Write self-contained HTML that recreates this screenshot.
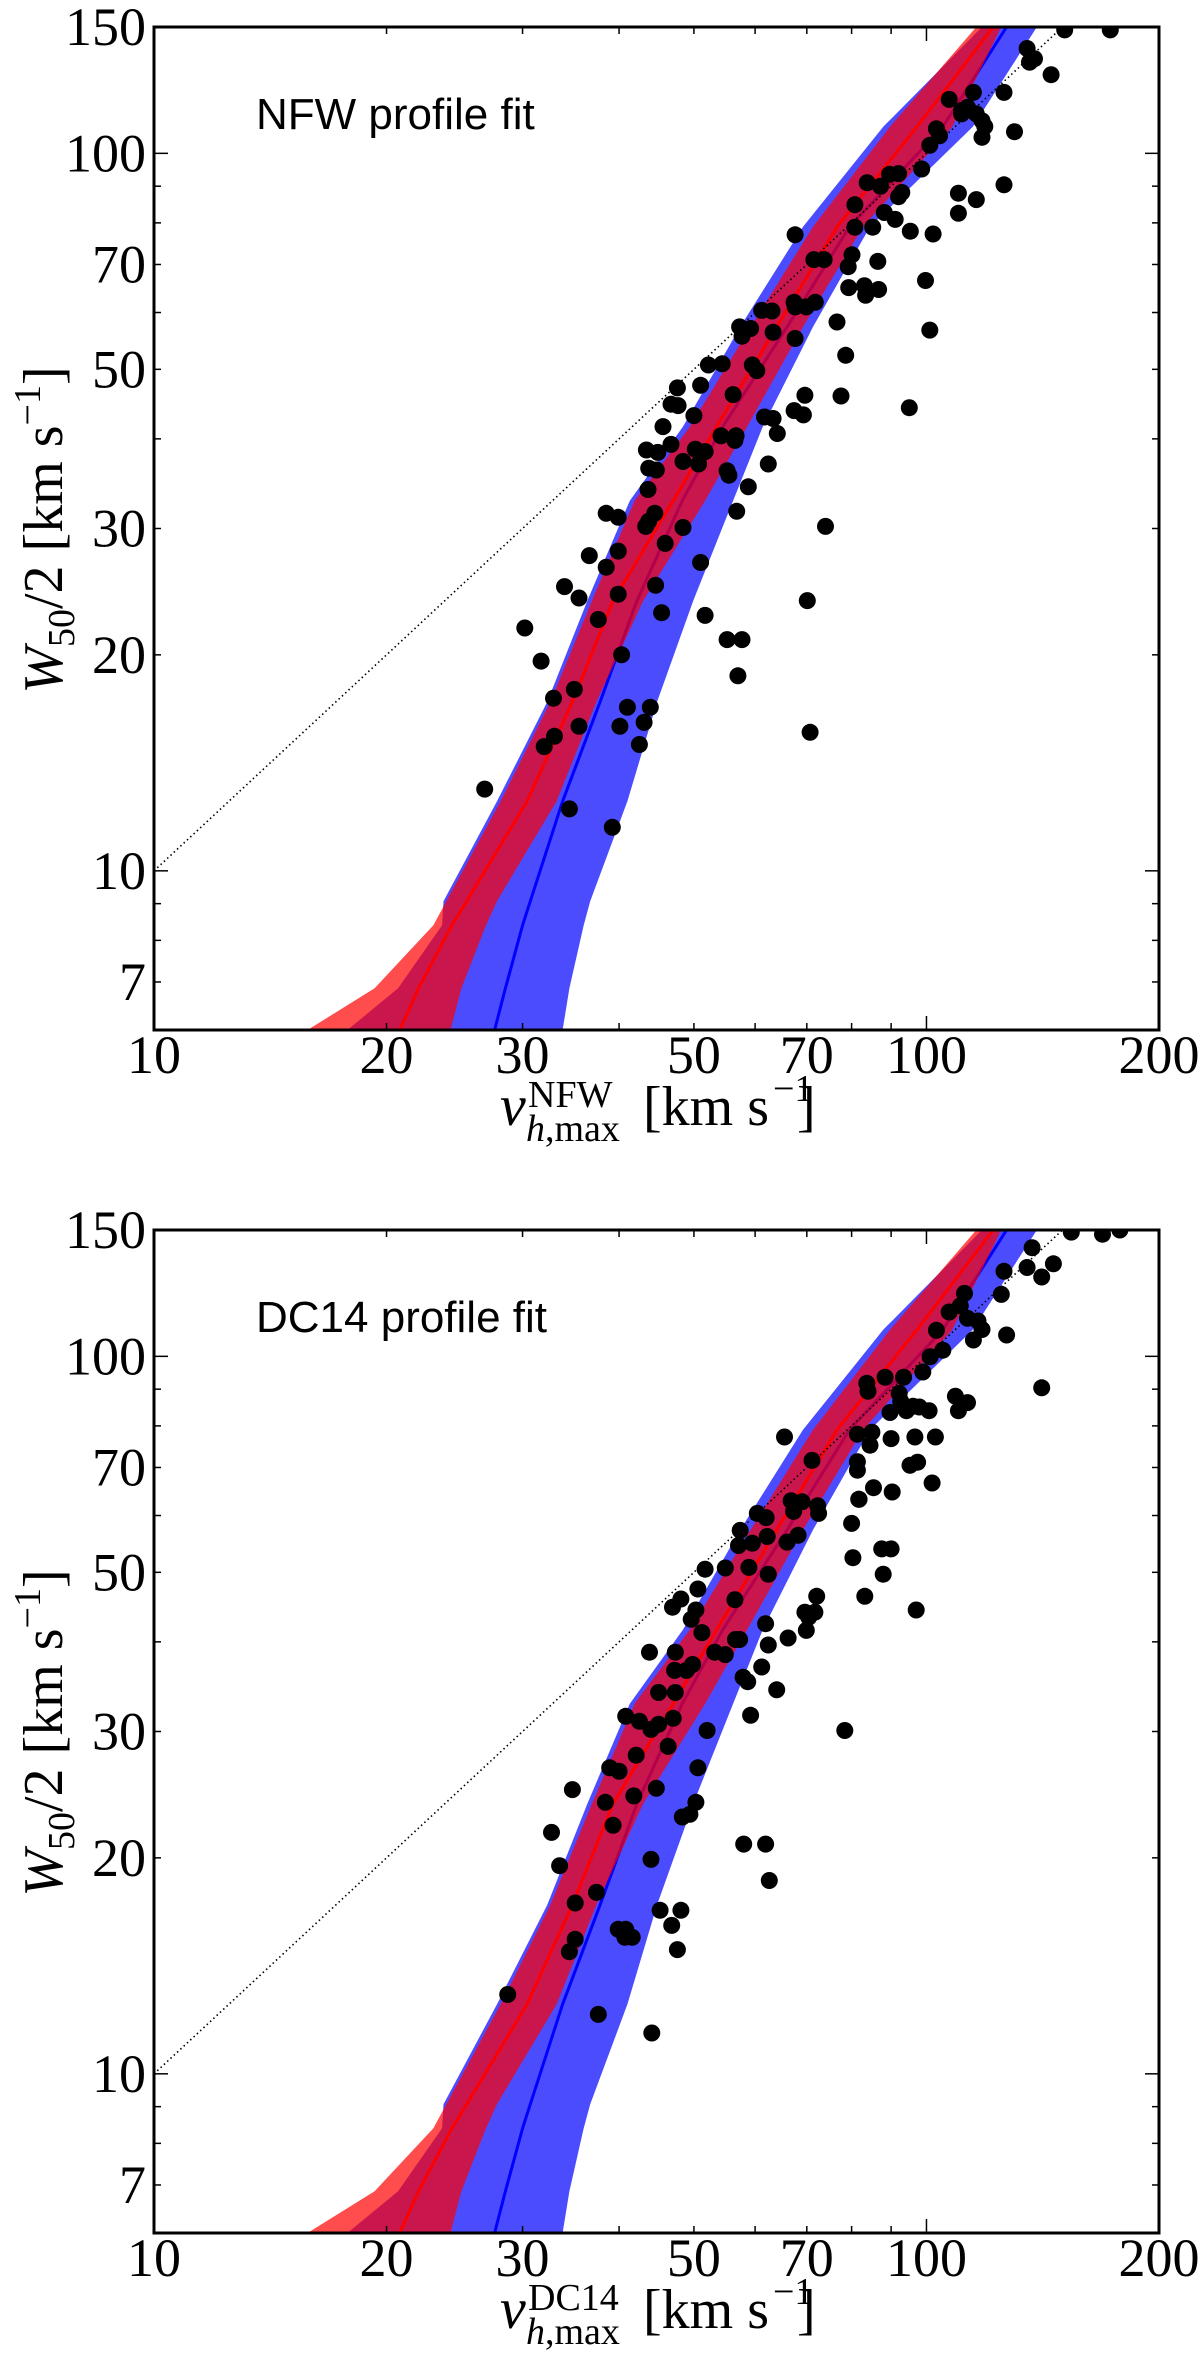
<!DOCTYPE html>
<html><head><meta charset="utf-8"><style>
html,body{margin:0;padding:0;background:#fff;}
svg{display:block;}
text{font-family:"Liberation Serif",serif;fill:#000;}
.sans{font-family:"Liberation Sans",sans-serif;}
</style></head><body>
<svg id="fig" width="1200" height="2361" viewBox="0 0 1200 2361" xmlns="http://www.w3.org/2000/svg"></svg>
<script>
// ---- shared band data (W50/2 levels and v_max edges) ----
const bandW   = [6, 6.86, 8.4, 9.07, 12.5, 17.2, 23.8, 32.8, 41.6, 57.3, 79, 108.9, 150];
const redLo   = [15.8, 19.3, 23.0, 23.9, 28.1, 32.6, 36.9, 41.9, 49.4, 59.2, 71.3, 89.7, 116];
const redHi   = [24.2, 25.0, 26.9, 27.8, 33.2, 37.4, 43, 51.7, 58.6, 69.2, 82.8, 108, 125];
const redMid  = [20.8, 22.0, 24.3, 25.4, 30.4, 34.8, 39.3, 47, 53.5, 64, 76.6, 97.2, 122];
const blueLo  = [17.8, 20.7, 23.6, 23.7, 27.8, 32.3, 36.4, 41.3, 48.4, 57.4, 69.2, 87.9, 118];
const blueHi  = [33.8, 34.5, 36.0, 36.7, 41.0, 44.8, 49.9, 56.2, 61.4, 71.3, 84.5, 114.8, 139];
const blueMid = [27.6, 28.5, 30.0, 30.7, 33.8, 37.8, 42.2, 48.3, 54.5, 66, 79.5, 105, 127];

// ---- NFW panel points ----
const nfwV = [26.8,30.2,31.7,32.9,32.0,33.0,34.0,35.5,36.6,35.0,35.5,34.5,37.6,38.5,39.9,38.5,39.9,39.9,40.3,40.1,39.2,41.0,42.5,43.1,43.9,44.6,45.4,45.9,43.3,43.7,44.5,43.6,43.7,44.7,43.4,44.9,46.7,45.6,46.7,47.7,47.6,48.4,48.4,50.0,50.2,50.7,51.0,51.7,52.2,51.0,51.7,54.2,54.4,55.2,55.5,56.5,56.7,56.8,55.2,57.7,57.0,56.2,57.3,57.7,59.2,59.5,60.3,58.8,61.2,62.4,61.7,63.3,64.1,63.1,63.3,67.6,67.4,67.6,67.4,69.3,69.6,70.1,70.7,67.6,69.9,71.8,71.5,73.7,74.0,76.6,77.5,78.6,79.2,80.1,79.3,83.1,83.4,83.8,80.8,80.8,85.2,87.2,86.7,86.5,88.2,89.6,92.0,91.1,92.0,92.9,95.0,95.3,98.6,99.7,101,101,103,104,102,107,110,110,111,113,111,115,116,118,118,116,119,126,126,130,136,136,138,145,151,173,135];
const nfwW = [13.0,21.8,19.6,17.4,14.9,15.4,24.9,24.0,27.5,17.9,15.9,12.2,22.4,31.5,31.1,26.5,27.9,24.3,20.0,15.9,11.5,16.9,15.0,16.1,16.9,25.0,22.9,28.6,30.2,30.7,31.5,34.0,36.4,36.2,38.6,38.3,39.3,41.6,44.7,44.5,47.1,30.1,37.2,43.1,38.7,36.9,47.5,38.4,50.7,26.9,22.7,40.4,50.9,36.1,35.6,39.8,40.4,31.7,21.0,21.0,18.7,46.1,57.3,55.6,57.0,50.7,49.8,34.3,60.4,36.9,42.9,42.7,40.7,60.3,56.3,77.0,62.0,55.2,43.8,43.2,46.0,23.8,15.6,61.1,61.1,62.0,71.1,71.1,30.2,58.2,45.9,52.3,69.5,72.2,65.0,65.4,63.4,91.0,78.9,84.8,78.9,90.0,64.6,70.7,82.7,93.5,93.7,80.9,87.0,88.2,44.2,77.9,95.1,66.5,102.6,56.7,108.2,105.8,77.2,118.9,88.0,82.5,114.7,115.9,113.5,121.6,113.5,105.3,111,86.2,109,90.4,121.6,107.2,134,134,135.5,128.7,148.6,148.6,140];

// ---- DC14 panel points ----
const dcV = [28.7,32.7,33.5,34.8,35.1,35.1,34.5,37.4,37.6,38.4,38.9,39.3,40.0,40.8,39.9,40.8,41.6,40.7,41.8,42.1,42.5,44.0,45.0,45.0,44.0,44.1,43.8,44.7,45.2,46.8,47.6,48.1,46.3,47.0,47.3,47.2,47.3,48.1,46.9,48.3,49.4,50.3,50.6,52.0,48.9,49.8,49.6,50.3,50.6,51.2,51.7,53.2,54.9,54.9,56.5,56.6,57.3,57.1,57.4,57.9,58.7,59.2,58.0,58.9,59.5,60.4,61.2,62.0,62.2,62.4,61.9,62.4,61.9,62.6,64.0,66.0,66.2,66.8,67.3,68.2,69.0,69.6,69.9,70.4,71.7,72.1,72.3,72.5,71.1,65.5,78.4,80.0,80.3,81.4,81.4,81.8,81.4,83.2,83.7,84.0,84.5,85.0,81.7,85.4,87.5,87.9,90.0,89.7,90.0,88.4,90.3,92.2,93.4,92.6,94.2,96.1,96.6,97.0,95.2,97.4,97.9,98.9,100.8,101.7,102.7,101.1,105,103,107,109,110,110.6,113,112,113,115,116.6,118,125,127,126,135,137,141,141,146,154,169,178];
const dcW = [12.9,21.7,19.5,24.9,17.3,15.4,14.8,17.9,12.1,23.9,26.7,22.2,26.4,31.5,15.9,15.9,15.5,15.5,24.4,27.8,31.0,30.2,30.7,34.0,19.9,11.4,38.7,25.0,16.9,16.1,14.9,16.9,28.6,31.3,34.0,36.5,38.7,45.9,44.7,22.8,23.0,23.9,26.7,30.1,36.5,37.2,43.0,44.3,47.4,41.2,50.5,38.7,50.7,38.4,45.8,40.3,40.3,54.5,57.2,35.7,35.2,31.6,20.9,50.8,54.9,60.4,36.9,59.6,56.1,49.7,42.4,39.6,20.9,18.6,34.3,55.1,40.5,62.9,60.8,56.3,62.7,44.0,41.5,43.3,44.0,46.3,61.9,60.4,71.6,77.2,30.1,58.5,52.4,69.4,71.3,63.2,77.9,46.3,91.7,89.4,75.2,78.4,63.2,65.6,53.9,49.7,53.9,83.5,76.8,93.5,64.7,88.8,93.5,86.6,84.0,85.2,77.2,44.3,70.5,71.2,85.0,95.1,84.0,66.6,77.2,99.9,102,108.7,115.3,88,84.0,117.6,86.2,122.4,113,105.4,112,109,122,107.1,131.4,133,141.7,90.4,129,134.6,149,148,150];

const xTickLabels = [10, 20, 30, 50, 70, 100, 200];
const yTickLabels = [7, 10, 20, 30, 50, 70, 100, 150];

const NS = 'http://www.w3.org/2000/svg';
const svg = document.getElementById('fig');
const X0 = 154, X1 = 1159, XMIN = 10, XMAX = 200, YMIN = 6, YMAX = 150, PH = 1003;
function sx(v){ return X0 + (Math.log10(v) - Math.log10(XMIN)) / (Math.log10(XMAX) - Math.log10(XMIN)) * (X1 - X0); }
function mk(tag, attrs, parent){ const e = document.createElementNS(NS, tag); for (const k in attrs) e.setAttribute(k, attrs[k]); (parent || svg).appendChild(e); return e; }

function panel(top, ptsV, ptsW, title, supText, key){
  const sy = w => top + (Math.log10(YMAX) - Math.log10(w)) / (Math.log10(YMAX) - Math.log10(YMIN)) * PH;
  const g = mk('g', {});
  
  
  const clipId = 'clip-' + key;
  const cp = mk('clipPath', {id: clipId}, g);
  mk('rect', {x: X0, y: top, width: X1 - X0, height: PH}, cp);
  const pg = mk('g', {'clip-path': 'url(#' + clipId + ')'}, g);

  function band(lo, hi, fill, name){
    let d = '';
    bandW.forEach((w, i) => { d += (i ? 'L' : 'M') + sx(lo[i]).toFixed(1) + ' ' + sy(w).toFixed(1); });
    for (let i = bandW.length - 1; i >= 0; i--) d += 'L' + sx(hi[i]).toFixed(1) + ' ' + sy(bandW[i]).toFixed(1);
    const p = mk('path', {d: d + 'Z', fill: fill, 'fill-opacity': 0.7, stroke: 'none'}, pg);
    
    
  }
  function line(arr, col, name){
    const pts = bandW.map((w, i) => sx(arr[i]).toFixed(1) + ',' + sy(w).toFixed(1)).join(' ');
    const l = mk('polyline', {points: pts, fill: 'none', stroke: col, 'stroke-width': 3}, pg);
    
    
  }
  band(blueLo, blueHi, '#0000ff', 'blue-band');
  line(blueMid, '#0000ff', 'blue-median-line');
  band(redLo, redHi, '#ff0000', 'red-band');
  line(redMid, '#ff0000', 'red-median-line');
  const one = mk('line', {x1: sx(10), y1: sy(10), x2: sx(150), y2: sy(150), stroke: '#000', 'stroke-width': 1.6, 'stroke-dasharray': '1.5 3'}, pg);
  
  
  ptsV.forEach((v, i) => {
    const c = mk('circle', {cx: sx(v).toFixed(1), cy: sy(ptsW[i]).toFixed(1), r: 8.5, fill: '#000'}, pg);
    
    
  });

  const fr = mk('rect', {x: X0, y: top, width: X1 - X0, height: PH, fill: 'none', stroke: '#000', 'stroke-width': 3}, g);
  
  

  const xt = [];
  for (let d = 10; d <= 100; d *= 10) for (let m = 1; m <= 9; m++) { const v = d * m; if (v >= XMIN && v <= XMAX) xt.push(v); }
  xt.forEach(v => {
    const L = (v === 10 || v === 100) ? 14 : 7, x = sx(v);
    mk('line', {x1: x, y1: top + PH, x2: x, y2: top + PH - L, stroke: '#000', 'stroke-width': 1.5}, g);
    mk('line', {x1: x, y1: top, x2: x, y2: top + L, stroke: '#000', 'stroke-width': 1.5}, g);
  });
  const yt = [];
  for (let d = 1; d <= 100; d *= 10) for (let m = 1; m <= 9; m++) { const v = d * m; if (v >= YMIN && v <= YMAX) yt.push(v); }
  yt.forEach(v => {
    const L = (v === 10 || v === 100) ? 14 : 7, y = sy(v);
    mk('line', {x1: X0, y1: y, x2: X0 + L, y2: y, stroke: '#000', 'stroke-width': 1.5}, g);
    mk('line', {x1: X1, y1: y, x2: X1 - L, y2: y, stroke: '#000', 'stroke-width': 1.5}, g);
  });
  xTickLabels.forEach(v => {
    const t = mk('text', {x: sx(v), y: top + PH + 43, 'font-size': 54, 'text-anchor': 'middle'}, g);
    t.textContent = v;
    
    
  });
  yTickLabels.forEach(v => {
    const t = mk('text', {x: 146, y: sy(v) + 18, 'font-size': 54, 'text-anchor': 'end'}, g);
    t.textContent = v;
    
    
  });
  const tt = mk('text', {x: 256, y: top + 102, 'font-size': 44, 'class': 'sans'}, g);
  tt.textContent = title;
  
  
  const xl = mk('g', {}, g);
  
  
  const bx = top + PH + 95;
  let t = mk('text', {x: 500, y: bx, 'font-size': 58, 'font-style': 'italic'}, xl); t.textContent = 'v';
  t = mk('text', {x: 528, y: bx - 18, 'font-size': 38}, xl); t.textContent = supText;
  t = mk('text', {x: 526, y: bx + 16, 'font-size': 38}, xl); t.innerHTML = '<tspan font-style="italic">h</tspan>,max';
  t = mk('text', {x: 643, y: bx, 'font-size': 56}, xl); t.textContent = '[km s';
  t = mk('text', {x: 773, y: bx - 24, 'font-size': 38}, xl); t.textContent = '\u22121';
  t = mk('text', {x: 797, y: bx, 'font-size': 56}, xl); t.textContent = ']';
  const cy = top + 503;
  const yl = mk('text', {x: 0, y: 0, 'font-size': 56, transform: 'translate(62,' + cy + ') rotate(-90)', 'text-anchor': 'middle'}, g);
  yl.innerHTML = '<tspan font-style="italic">W</tspan><tspan font-size="38" dy="12">50</tspan><tspan dy="-12">/2 [km s</tspan><tspan font-size="38" dy="-22">\u22121</tspan><tspan dy="22">]</tspan>';
  
  
}
panel(27, nfwV, nfwW, 'NFW profile fit', 'NFW', 'nfw');
panel(1230, dcV, dcW, 'DC14 profile fit', 'DC14', 'dc14');
</script>
</body></html>
